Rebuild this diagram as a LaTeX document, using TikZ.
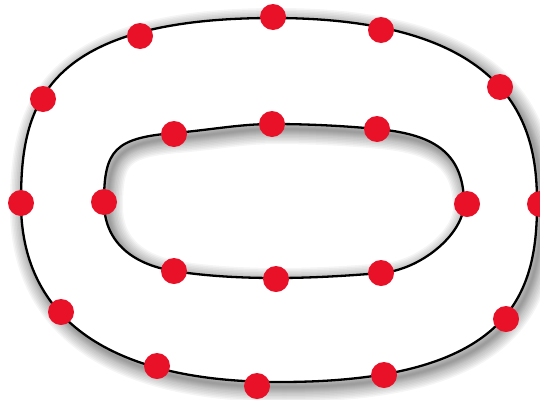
\documentclass[tikz,border=0pt]{standalone}
\begin{document}
\begin{tikzpicture}[x=1pt,y=-1pt,
  dot/.style={circle,fill=dotred,inner sep=0pt,minimum size=26pt},
  curve/.style={line width=2.3pt,black},
  shade/.style={black,opacity=0.04}]
\definecolor{dotred}{RGB}{232,17,40}
\useasboundingbox (0,0) rectangle (540,399);
\def\outerpath{(273,18) .. controls (526,18) and (537,140) .. (537,204)
  .. controls (537,294) and (511,382) .. (280,382)
  .. controls (87,382) and (21,302) .. (21,203)
  .. controls (21,113) and (36,18) .. (273,18) -- cycle}
\def\innerpath{(104,202) .. controls (104,150) and (115,138) .. (174,133)
  .. controls (210,130) and (240,124) .. (272,124)
  .. controls (310,124) and (345,126) .. (377,129)
  .. controls (430,134) and (464,150) .. (464,204)
  .. controls (463,235) and (420,270) .. (381,273)
  .. controls (345,276) and (310,278) .. (276,278)
  .. controls (240,278) and (205,276) .. (174,271)
  .. controls (130,264) and (104,240) .. (104,202) -- cycle}
% shadow
\foreach \w in {30,27,24,21,18,15,12,10,8,6,4,2}{
  \draw[shade,line width=\w pt,shift={(4,5)}] \outerpath;
  \draw[shade,line width=\w pt,shift={(4,5)}] \innerpath;
}
\fill[white,even odd rule] \outerpath \innerpath;
\draw[curve] \outerpath;
\draw[curve] \innerpath;
% outer dots
\node[dot] (o1) at (273,17) {};
\node[dot] (o2) at (381,30) {};
\node[dot] (o3) at (500,87) {};
\node[dot] (o4) at (540,204) {};
\node[dot] (o5) at (506,319) {};
\node[dot] (o6) at (384,375) {};
\node[dot] (o7) at (257,386) {};
\node[dot] (o8) at (157,366) {};
\node[dot] (o9) at (61,312) {};
\node[dot] (o10) at (21,203) {};
\node[dot] (o11) at (43,99) {};
\node[dot] (o12) at (140,36) {};
% inner dots
\node[dot] (i1) at (272,124) {};
\node[dot] (i2) at (377,129) {};
\node[dot] (i3) at (467,204) {};
\node[dot] (i4) at (381,273) {};
\node[dot] (i5) at (276,279) {};
\node[dot] (i6) at (174,271) {};
\node[dot] (i7) at (104,202) {};
\node[dot] (i8) at (174,134) {};
\end{tikzpicture}
\end{document}
